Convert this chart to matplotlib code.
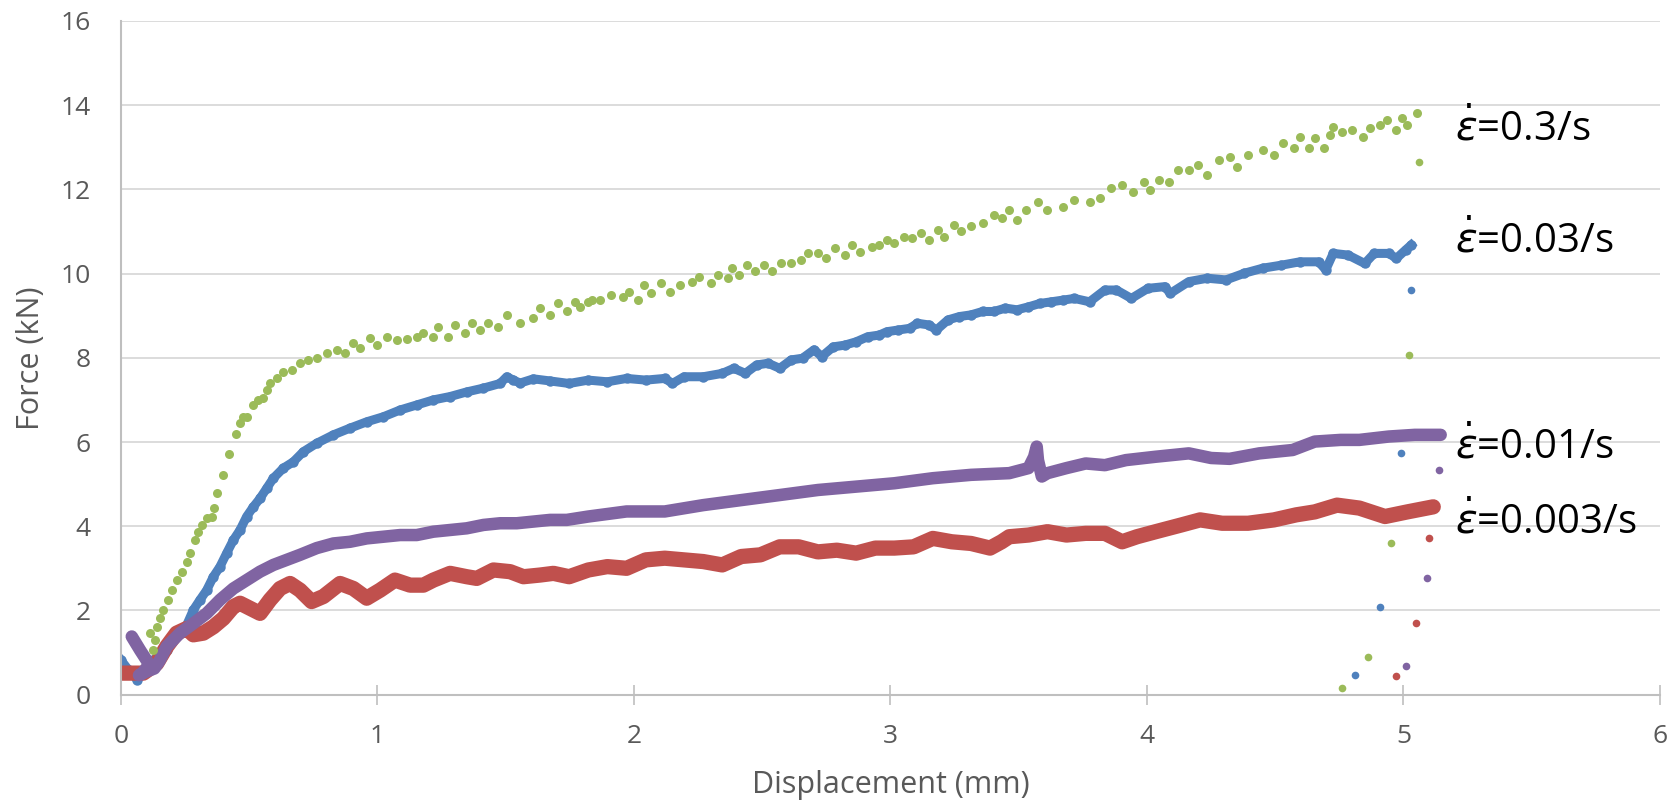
import matplotlib
matplotlib.use('Agg')
import matplotlib.pyplot as plt

# strain rate 0.3/s (green)
green_x = [0.113, 0.126, 0.133, 0.139, 0.152, 0.165, 0.184, 0.198, 0.217, 0.237, 0.256, 0.269,
           0.288, 0.301, 0.315, 0.334, 0.354, 0.364, 0.375, 0.399, 0.422, 0.447, 0.464, 0.477,
           0.490, 0.516, 0.535, 0.555, 0.568, 0.581, 0.607, 0.633, 0.665, 0.698, 0.730, 0.763,
           0.802, 0.841, 0.873, 0.906, 0.932, 0.971, 0.997, 1.036, 1.075, 1.114, 1.153, 1.179,
           1.218, 1.237, 1.276, 1.302, 1.341, 1.367, 1.400, 1.432, 1.471, 1.504, 1.556, 1.608,
           1.634, 1.673, 1.705, 1.738, 1.770, 1.789, 1.822, 1.835, 1.867, 1.911, 1.956, 1.979,
           2.016, 2.038, 2.068, 2.105, 2.142, 2.180, 2.225, 2.255, 2.299, 2.329, 2.367, 2.381,
           2.411, 2.441, 2.471, 2.508, 2.538, 2.575, 2.612, 2.650, 2.680, 2.717, 2.747, 2.784,
           2.822, 2.851, 2.881, 2.926, 2.955, 2.986, 3.015, 3.052, 3.083, 3.120, 3.150, 3.187,
           3.209, 3.246, 3.276, 3.314, 3.359, 3.404, 3.433, 3.463, 3.493, 3.530, 3.575, 3.612,
           3.672, 3.717, 3.776, 3.817, 3.860, 3.903, 3.947, 3.990, 4.012, 4.048, 4.084, 4.120,
           4.163, 4.199, 4.235, 4.279, 4.322, 4.351, 4.394, 4.452, 4.495, 4.531, 4.575, 4.596,
           4.633, 4.654, 4.690, 4.712, 4.726, 4.762, 4.799, 4.842, 4.871, 4.907, 4.936, 4.972,
           4.994, 5.015, 5.051]
green_y = [1.46, 1.06, 1.30, 1.61, 1.81, 2.01, 2.25, 2.48, 2.72, 2.92, 3.16, 3.36,
           3.67, 3.87, 4.03, 4.19, 4.23, 4.44, 4.78, 5.22, 5.71, 6.18, 6.44, 6.60,
           6.60, 6.88, 7.00, 7.04, 7.24, 7.39, 7.51, 7.67, 7.71, 7.87, 7.95, 7.99,
           8.11, 8.19, 8.11, 8.34, 8.23, 8.46, 8.30, 8.50, 8.42, 8.44, 8.50, 8.58,
           8.50, 8.74, 8.50, 8.78, 8.58, 8.82, 8.66, 8.82, 8.74, 9.02, 8.82, 8.94,
           9.18, 9.02, 9.29, 9.10, 9.33, 9.21, 9.33, 9.37, 9.37, 9.49, 9.45, 9.57,
           9.37, 9.73, 9.53, 9.77, 9.57, 9.73, 9.81, 9.93, 9.77, 9.97, 9.89, 10.13,
           9.97, 10.20, 10.05, 10.20, 10.05, 10.25, 10.25, 10.32, 10.48, 10.48, 10.36, 10.60,
           10.44, 10.68, 10.52, 10.64, 10.68, 10.80, 10.72, 10.88, 10.84, 10.96, 10.80, 11.04,
           10.88, 11.15, 11.00, 11.12, 11.20, 11.39, 11.31, 11.51, 11.27, 11.51, 11.71, 11.51,
           11.59, 11.75, 11.71, 11.79, 12.03, 12.10, 11.95, 12.18, 11.99, 12.22, 12.18, 12.46,
           12.46, 12.58, 12.34, 12.70, 12.78, 12.54, 12.82, 12.94, 12.82, 13.10, 12.98, 13.25,
           12.98, 13.21, 12.98, 13.29, 13.49, 13.37, 13.41, 13.25, 13.45, 13.53, 13.65, 13.41,
           13.69, 13.53, 13.81]
green_drop_x = [5.06, 5.02, 4.95, 4.86, 4.76]
green_drop_y = [12.66, 8.07, 3.61, 0.89, 0.16]

# strain rate 0.03/s (blue)
blue_x = [0.0, 0.03, 0.064, 0.087, 0.126, 0.178, 0.256, 0.282, 0.308, 0.334, 0.360, 0.386,
          0.412, 0.438, 0.464, 0.490, 0.516, 0.542, 0.568, 0.594, 0.633, 0.672, 0.711, 0.763,
          0.828, 0.893, 0.958, 1.023, 1.088, 1.153, 1.218, 1.283, 1.348, 1.413, 1.478, 1.504,
          1.530, 1.556, 1.608, 1.673, 1.747, 1.822, 1.896, 1.971, 2.046, 2.120, 2.150, 2.195,
          2.270, 2.344, 2.389, 2.434, 2.478, 2.523, 2.568, 2.613, 2.657, 2.702, 2.732, 2.777,
          2.821, 2.866, 2.911, 2.956, 2.986, 3.030, 3.075, 3.105, 3.150, 3.179, 3.224, 3.269,
          3.314, 3.359, 3.403, 3.448, 3.493, 3.538, 3.582, 3.627, 3.672, 3.717, 3.776, 3.836,
          3.881, 3.939, 4.004, 4.069, 4.091, 4.163, 4.235, 4.308, 4.380, 4.452, 4.524, 4.596,
          4.669, 4.697, 4.726, 4.784, 4.849, 4.886, 4.943, 4.972, 5.008, 5.030]
blue_y = [0.82, 0.58, 0.35, 0.58, 0.82, 1.06, 1.65, 2.01, 2.25, 2.48, 2.80, 3.04,
          3.36, 3.67, 3.91, 4.23, 4.46, 4.66, 4.90, 5.14, 5.38, 5.53, 5.77, 5.97,
          6.17, 6.33, 6.48, 6.60, 6.76, 6.88, 7.00, 7.08, 7.19, 7.28, 7.39, 7.55,
          7.47, 7.40, 7.50, 7.45, 7.39, 7.47, 7.43, 7.51, 7.47, 7.51, 7.39, 7.55,
          7.55, 7.63, 7.75, 7.63, 7.83, 7.87, 7.75, 7.95, 7.99, 8.19, 8.03, 8.26,
          8.30, 8.38, 8.50, 8.54, 8.62, 8.66, 8.70, 8.82, 8.78, 8.66, 8.90, 8.98,
          9.02, 9.10, 9.10, 9.18, 9.14, 9.21, 9.29, 9.33, 9.37, 9.41, 9.33, 9.61,
          9.61, 9.41, 9.65, 9.69, 9.53, 9.81, 9.89, 9.85, 10.01, 10.13, 10.20, 10.28,
          10.28, 10.09, 10.48, 10.44, 10.24, 10.48, 10.48, 10.36, 10.56, 10.68]
blue_drop_x = [5.03, 4.99, 4.91, 4.81]
blue_drop_y = [9.61, 5.75, 2.09, 0.47]

# strain rate 0.01/s (purple)
purple_x = [0.042, 0.075, 0.110, 0.085, 0.070, 0.100, 0.130, 0.150, 0.178, 0.230, 0.282, 0.334,
            0.386, 0.438, 0.490, 0.542, 0.594, 0.646, 0.698, 0.763, 0.828, 0.893, 0.958, 1.023,
            1.088, 1.153, 1.218, 1.283, 1.348, 1.413, 1.478, 1.543, 1.608, 1.673, 1.738, 1.822,
            1.971, 2.120, 2.269, 2.418, 2.568, 2.717, 2.866, 3.015, 3.165, 3.314, 3.463, 3.538,
            3.560, 3.570, 3.575, 3.590, 3.612, 3.686, 3.761, 3.836, 3.918, 4.034, 4.163, 4.250,
            4.322, 4.438, 4.568, 4.654, 4.755, 4.828, 4.943, 5.044, 5.145]
purple_y = [1.38, 1.05, 0.72, 0.52, 0.46, 0.55, 0.62, 0.80, 1.14, 1.46, 1.69, 1.93,
            2.25, 2.52, 2.72, 2.92, 3.08, 3.20, 3.32, 3.48, 3.59, 3.63, 3.71, 3.75,
            3.79, 3.79, 3.87, 3.91, 3.95, 4.03, 4.07, 4.07, 4.11, 4.15, 4.15, 4.23,
            4.35, 4.35, 4.50, 4.62, 4.74, 4.86, 4.94, 5.02, 5.14, 5.22, 5.26, 5.38,
            5.65, 5.89, 5.57, 5.18, 5.26, 5.38, 5.49, 5.45, 5.57, 5.65, 5.73, 5.62,
            5.60, 5.73, 5.81, 6.01, 6.05, 6.05, 6.13, 6.17, 6.17]
purple_drop_x = [5.14, 5.09, 5.01]
purple_drop_y = [5.33, 2.77, 0.69]

# strain rate 0.003/s (red)
red_x = [0.0, 0.05, 0.087, 0.139, 0.178, 0.217, 0.256, 0.282, 0.321, 0.360, 0.399, 0.438,
         0.464, 0.503, 0.542, 0.581, 0.620, 0.659, 0.698, 0.743, 0.789, 0.854, 0.906, 0.958,
         1.010, 1.068, 1.127, 1.179, 1.218, 1.283, 1.348, 1.387, 1.452, 1.517, 1.569, 1.634,
         1.686, 1.747, 1.822, 1.896, 1.971, 2.046, 2.120, 2.195, 2.270, 2.344, 2.418, 2.493,
         2.568, 2.642, 2.717, 2.791, 2.866, 2.941, 3.015, 3.090, 3.165, 3.239, 3.314, 3.388,
         3.433, 3.463, 3.538, 3.612, 3.686, 3.761, 3.836, 3.903, 3.961, 4.034, 4.134, 4.207,
         4.293, 4.394, 4.495, 4.582, 4.654, 4.741, 4.828, 4.928, 5.015, 5.116]
red_y = [0.51, 0.51, 0.51, 0.74, 1.14, 1.46, 1.57, 1.42, 1.46, 1.61, 1.81, 2.09,
         2.17, 2.05, 1.93, 2.25, 2.52, 2.64, 2.48, 2.21, 2.33, 2.64, 2.52, 2.29,
         2.48, 2.72, 2.60, 2.60, 2.72, 2.88, 2.80, 2.76, 2.96, 2.92, 2.80, 2.84,
         2.88, 2.80, 2.96, 3.04, 3.00, 3.20, 3.24, 3.20, 3.16, 3.08, 3.28, 3.32,
         3.51, 3.51, 3.39, 3.43, 3.36, 3.48, 3.48, 3.51, 3.71, 3.63, 3.59, 3.48,
         3.63, 3.75, 3.79, 3.87, 3.79, 3.83, 3.83, 3.63, 3.75, 3.87, 4.03, 4.15,
         4.07, 4.07, 4.15, 4.27, 4.34, 4.50, 4.43, 4.23, 4.34, 4.46]
red_drop_x = [5.10, 5.05, 4.97]
red_drop_y = [3.72, 1.70, 0.44]

rate_labels = ['0.3/s', '0.03/s', '0.01/s', '0.003/s']
label_y = [13.4, 10.75, 5.85, 4.07]

GREEN = '#9BBB59'
BLUE = '#4F81BD'
PURPLE = '#8064A2'
RED = '#C0504D'
TXT = '#595959'

plt.rcParams['font.family'] = ['Open Sans', 'DejaVu Sans']
plt.rcParams['mathtext.fontset'] = 'dejavusans'

fig = plt.figure(figsize=(16.81, 8.05), dpi=100)
ax = fig.add_axes([121 / 1681, 110.4 / 805, 1539 / 1681, 673.6 / 805])

ax.plot(blue_x, blue_y, '-o', color=BLUE, lw=6.5, ms=7.5, mew=0, solid_joinstyle='round')
ax.plot(red_x, red_y, '-', color=RED, lw=11, solid_joinstyle='round', solid_capstyle='round')
ax.plot(purple_x, purple_y, '-', color=PURPLE, lw=9, solid_joinstyle='round', solid_capstyle='round')
ax.plot(green_x, green_y, 'o', color=GREEN, ms=6.5, mew=0)

for dx, dy, c in [(blue_drop_x, blue_drop_y, BLUE), (red_drop_x, red_drop_y, RED),
                  (purple_drop_x, purple_drop_y, PURPLE), (green_drop_x, green_drop_y, GREEN)]:
    ax.plot(dx, dy, 'o', color=c, ms=5.5, mew=0, clip_on=False)

for lab, ly in zip(rate_labels, label_y):
    ax.text(5.20, ly, r'$\dot{\varepsilon}$=' + lab, fontsize=29, color='black',
            ha='left', va='center')

ax.set_xlim(0, 6)
ax.set_ylim(0, 16)
ax.set_xticks(range(0, 7))
ax.set_yticks(range(0, 17, 2))
ax.grid(axis='y', color='#D9D9D9', lw=1.3)
ax.set_axisbelow(True)
for s in ['top', 'right']:
    ax.spines[s].set_visible(False)
for s in ['left', 'bottom']:
    ax.spines[s].set_color('#BFBFBF')
    ax.spines[s].set_linewidth(1.5)
ax.tick_params(axis='x', direction='inout', length=14, width=1.2, color='#BFBFBF',
               pad=14, labelsize=19, labelcolor=TXT)
ax.tick_params(axis='y', length=0, pad=22, labelsize=19, labelcolor=TXT)

ax.set_xlabel('Displacement (mm)', fontsize=22, color=TXT)
ax.set_ylabel('Force (kN)', fontsize=22, color=TXT)
ax.xaxis.set_label_coords(0.5, -0.112)
ax.yaxis.set_label_coords(-0.049, 0.5)

fig.savefig('out.png', dpi=100)
